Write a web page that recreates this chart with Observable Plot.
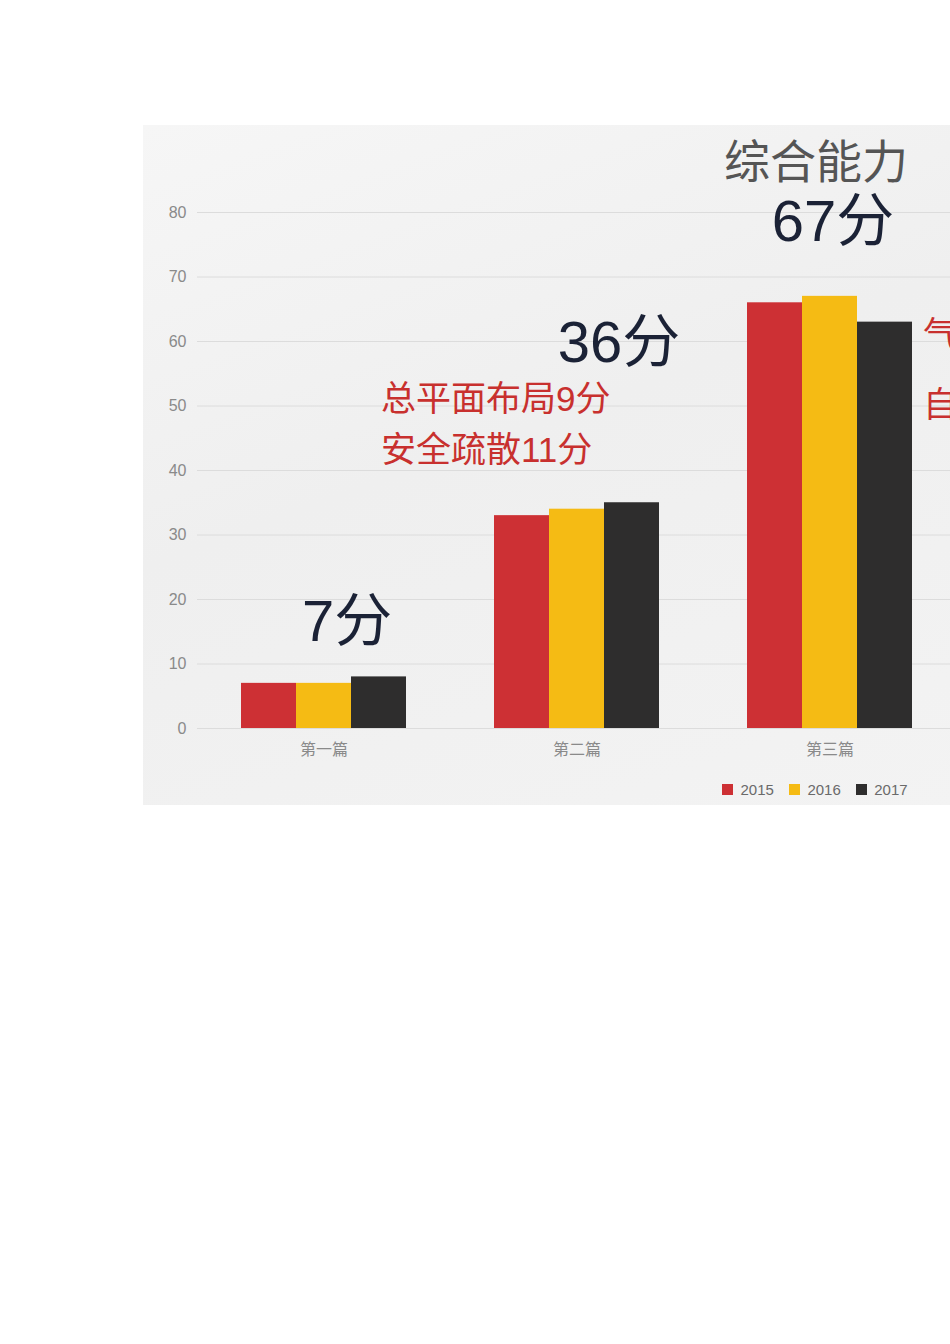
<!DOCTYPE html>
<html>
<head>
<meta charset="utf-8">
<script src="https://cdn.jsdelivr.net/npm/d3@7"></script>
<script src="https://cdn.jsdelivr.net/npm/@observablehq/plot@0.6"></script>
<style>
  html, body { margin: 0; padding: 0; background: #fff; overflow: hidden; width: 950px; height: 1344px; }
  #page { position: relative; width: 950px; height: 1344px; overflow: hidden; }
  #panel {
    position: absolute; left: 143px; top: 125px; width: 830px; height: 680px;
    background: linear-gradient(160deg, #f6f6f6 0%, #efefef 45%, #f3f3f3 100%);
  }
  #chart { position: absolute; left: 0; top: 125px; width: 980px; }
  #legend { padding-left: 722px; margin-top: -2px; }
</style>
</head>
<body>
<div id="page">
  <div id="panel"></div>
  <div id="chart"></div>
</div>
<script>
const categories = ["第一篇", "第二篇", "第三篇"];
const years = ["2015", "2016", "2017"];
const values2015 = [7, 33, 66];
const values2016 = [7, 34, 67];
const values2017 = [8, 35, 63];
const colors = ["#cd3034", "#f5bb14", "#2e2d2d"];
const yTicks = [0, 10, 20, 30, 40, 50, 60, 70, 80];
const totals = ["7分", "36分", "67分"];
const headline = "综合能力";
const notesSecond = ["总平面布局9分", "安全疏散11分"];
const notesThird = ["气", "自"];

const series = [values2015, values2016, values2017];
const data = [];
categories.forEach((c, i) => years.forEach((y, j) => data.push({category: c, year: y, value: series[j][i]})));

const latin = "'Liberation Sans', 'Noto Sans CJK SC', sans-serif";
const cjk = "'Noto Sans CJK SC', 'Liberation Sans', sans-serif";
const navy = "#1b2236";

const plot = Plot.plot({
  width: 956,
  height: 650,
  marginLeft: 197,
  marginRight: 0,
  marginTop: 87,
  marginBottom: 47,
  style: {background: "transparent", fontFamily: cjk},
  fx: {domain: categories, padding: 0, label: null, axis: "bottom", tickSize: 0, tickPadding: 15},
  x: {domain: years, paddingInner: 0, paddingOuter: 0.759, axis: null},
  y: {domain: [0, 80], ticks: yTicks, label: null, tickSize: 0, tickPadding: 11},
  color: {domain: years, range: colors},
  marks: [
    Plot.ruleY(yTicks, {stroke: "#dcdcdc", strokeWidth: 1}),
    Plot.barY(data, {fx: "category", x: "year", y: "value", fill: "year"}),
    Plot.text([totals[0]], {fx: () => categories[0], y: () => 16.4, text: d => d, dx: 23, fontSize: 58, fontFamily: latin, fill: navy}),
    Plot.text([totals[1]], {fx: () => categories[1], y: () => 59.7, text: d => d, dx: 42, fontSize: 58, fontFamily: latin, fill: navy}),
    Plot.text([totals[2]], {fx: () => categories[2], y: () => 78.4, text: d => d, dx: 3, fontSize: 58, fontFamily: latin, fill: navy}),
    Plot.text([headline], {fx: () => categories[2], y: () => 87.6, text: d => d, dx: -14, fontSize: 46, fontFamily: cjk, fill: "#555555"}),
    Plot.text(notesSecond, {fx: () => categories[1], y: (d, i) => [50.9, 43.1][i], text: d => d, dx: -196, textAnchor: "start", fontSize: 35, fontFamily: latin, fill: "#c8302e"}),
    Plot.text(notesThird, {fx: () => categories[2], y: (d, i) => [60.9, 50.1][i], text: d => d, dx: 93, textAnchor: "start", fontSize: 35, fontFamily: cjk, fill: "#c8302e"})
  ]
});

plot.querySelectorAll("g[aria-label='y-axis tick label']").forEach(g => {
  g.setAttribute("font-size", "16"); g.setAttribute("font-family", latin); g.setAttribute("fill", "#8a8a8a");
});
plot.querySelectorAll("g[aria-label='fx-axis tick label']").forEach(g => {
  g.setAttribute("font-size", "16"); g.setAttribute("fill", "#8a8a8a");
});

const chart = document.getElementById("chart");
chart.appendChild(plot);

const legend = Plot.legend({
  color: {domain: years, range: colors},
  legend: "swatches",
  swatchSize: 11,
  style: {fontSize: "15px", fontFamily: latin, color: "#6a6a6a", background: "transparent"}
});
const legendWrap = document.createElement("div");
legendWrap.id = "legend";
legendWrap.appendChild(legend);
chart.appendChild(legendWrap);
</script>
</body>
</html>
